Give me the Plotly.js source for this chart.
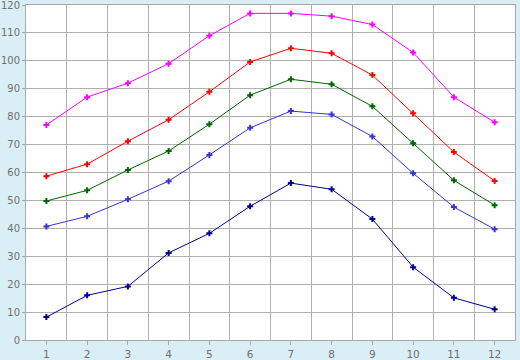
<!DOCTYPE html>
<html>
<head>
<meta charset="utf-8">
<script src="https://cdn.plot.ly/plotly-3.0.1.min.js"></script>
<style>html,body{margin:0;padding:0;background:#daeef5;}#chart{width:520px;height:360px;}</style>
</head>
<body>
<div id="chart"></div>
<script>
const months = [1,2,3,4,5,6,7,8,9,10,11,12];
const seriesMagenta = [77, 87, 92, 99, 109, 117, 117, 116, 113, 103, 87, 78];
const seriesRed = [58.7, 63, 71.2, 78.9, 88.9, 99.6, 104.5, 102.7, 94.9, 81.2, 67.3, 57];
const seriesGreen = [49.8, 53.6, 60.9, 67.7, 77.3, 87.7, 93.4, 91.6, 83.7, 70.5, 57.2, 48.3];
const seriesBlue = [40.7, 44.3, 50.4, 56.9, 66.3, 76, 82, 80.8, 72.9, 59.7, 47.6, 39.7];
const seriesNavy = [8.2, 16, 19.2, 31.2, 38.2, 47.9, 56.2, 54, 43.3, 26.1, 15.1, 11];
const yTicks = [0,10,20,30,40,50,60,70,80,90,100,110,120];

const defs = [
  [seriesMagenta, '#ff00ff'],
  [seriesRed, '#ff0000'],
  [seriesGreen, '#006400'],
  [seriesBlue, '#3535d0'],
  [seriesNavy, '#000090']
];
const traces = defs.map(([y, c]) => ({
  x: months, y: y, type: 'scatter', mode: 'lines+markers',
  line: {color: c, width: 1},
  marker: {color: c, symbol: 'cross', size: 5, line: {width: 0}},
  hoverinfo: 'skip'
}));
const boundaries = months.slice(0, -1).map(m => m + 0.5);
const layout = {
  width: 520, height: 360,
  margin: {l: 26, r: 5, t: 5, b: 20},
  paper_bgcolor: '#daeef5', plot_bgcolor: '#ffffff',
  showlegend: false,
  font: {family: 'DejaVu Sans, sans-serif', size: 10, color: '#707070'},
  xaxis: {
    range: [0.5, 12.5], tickmode: 'array', tickvals: months, ticktext: months.map(String),
    showgrid: false, zeroline: false, showline: true, linecolor: '#a8a8a8', linewidth: 1, mirror: true,
    ticks: 'outside', ticklen: 4, tickcolor: '#a8a8a8',
    minor: {tickmode: 'array', tickvals: boundaries, showgrid: true, gridcolor: '#b0b0b0', gridwidth: 1, ticks: ''},
    tickfont: {size: 10.5, color: '#707070'}
  },
  yaxis: {
    range: [0, 120], tickmode: 'array', tickvals: yTicks,
    showgrid: true, gridcolor: '#b0b0b0', gridwidth: 1, zeroline: false,
    showline: true, linecolor: '#a8a8a8', linewidth: 1, mirror: true,
    ticks: 'outside', ticklen: 3, tickcolor: '#a8a8a8', ticklabeloverflow: 'allow',
    tickfont: {size: 10, color: '#707070'}
  }
};
Plotly.newPlot('chart', traces, layout, {staticPlot: true, displayModeBar: false});
</script>
</body>
</html>
